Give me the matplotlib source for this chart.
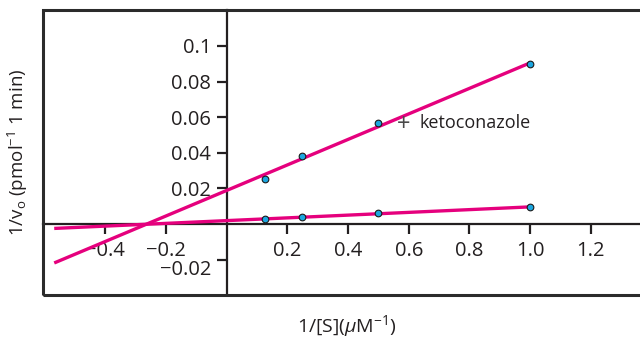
import matplotlib
matplotlib.use("Agg")
import matplotlib.pyplot as plt
from matplotlib.patches import Rectangle
from matplotlib.transforms import ScaledTranslation

plt.rcParams['font.family'] = ['Open Sans', 'DejaVu Sans']
plt.rcParams['mathtext.fontset'] = 'custom'
plt.rcParams['mathtext.rm'] = 'Open Sans'
plt.rcParams['mathtext.it'] = 'Open Sans:italic'

# data
inv_s = [0.125, 0.25, 0.5, 1.0]
inv_v_keto = [0.0253, 0.0382, 0.0567, 0.0899]
inv_v_ctrl = [0.0028, 0.0039, 0.0062, 0.0096]
line_x = [-0.568, 1.0]
line_keto = [-0.0219, 0.0905]
line_ctrl = [-0.0025, 0.0096]

xticks = [-0.4, -0.2, 0.2, 0.4, 0.6, 0.8, 1.0, 1.2]
xticklabels = ['\u22120.4', '\u22120.2', '0.2', '0.4', '0.6', '0.8', '1.0', '1.2']
yticks = [-0.02, 0.02, 0.04, 0.06, 0.08, 0.1]
yticklabels = ['\u22120.02', '0.02', '0.04', '0.06', '0.08', '0.1']

W, H = 640, 339
fig = plt.figure(figsize=(W / 100, H / 100), dpi=100)
left, right, top, bottom = 43, 660, 10, 295
ax = fig.add_axes([left / W, 1 - bottom / H, (right - left) / W, (bottom - top) / H])
ax.set_xlim(-0.605, 1.428)
ax.set_ylim(-0.0399, 0.1202)

mag = '#e5007d'
ax.plot(line_x, line_keto, color=mag, lw=2.4, solid_capstyle='butt', zorder=3)
ax.plot(line_x, line_ctrl, color=mag, lw=2.4, solid_capstyle='butt', zorder=3)
for ys in (inv_v_keto, inv_v_ctrl):
    ax.plot(inv_s, ys, 'o', ms=4.8, mfc='#1ba6e0', mec='#1a1a1a', mew=0.8, zorder=4)

ax.text(0.56, 0.0555, '+', fontsize=17, color='#4a4a4a', va='center', ha='left')
ax.text(0.635, 0.057, 'ketoconazole', fontsize=13, color='#231f20', va='center', ha='left')

axcol = '#231f20'
for s in ('top', 'right'):
    ax.spines[s].set_visible(False)
ax.spines['left'].set_position(('data', 0))
ax.spines['bottom'].set_position(('data', 0))
for s in ('left', 'bottom'):
    ax.spines[s].set_linewidth(1.6)
    ax.spines[s].set_color(axcol)
ax.add_patch(Rectangle((0, 0), 1.2, 1, transform=ax.transAxes, fill=False,
                       lw=2.2, ec='#2b2b2b', clip_on=False, zorder=5))

ax.set_xticks(xticks)
ax.set_xticklabels(xticklabels)
ax.set_yticks(yticks)
ax.set_yticklabels(yticklabels)
ax.tick_params(axis='both', direction='out', length=7, width=1.6, color=axcol,
               labelsize=14.5, labelcolor=axcol)
ax.tick_params(axis='x', pad=5)
ax.tick_params(axis='y', pad=4)

# the reference sets the -0.02 label slightly below its tick
lab = ax.get_yticklabels()[0]
lab.set_transform(lab.get_transform() + ScaledTranslation(0, -8 / 100, fig.dpi_scale_trans))

fig.text(18 / W, 1 - 152 / H, r'1/v$_{\mathrm{o}}$ (pmol$^{-1}$ 1 min)', rotation=90,
         ha='center', va='center', fontsize=13.5, color=axcol)
fig.text(347 / W, 1 - 326 / H, r'1/[S]($\mu$M$^{-1}$)', ha='center', va='center',
         fontsize=14, color=axcol)

fig.savefig('out.png', dpi=100)
